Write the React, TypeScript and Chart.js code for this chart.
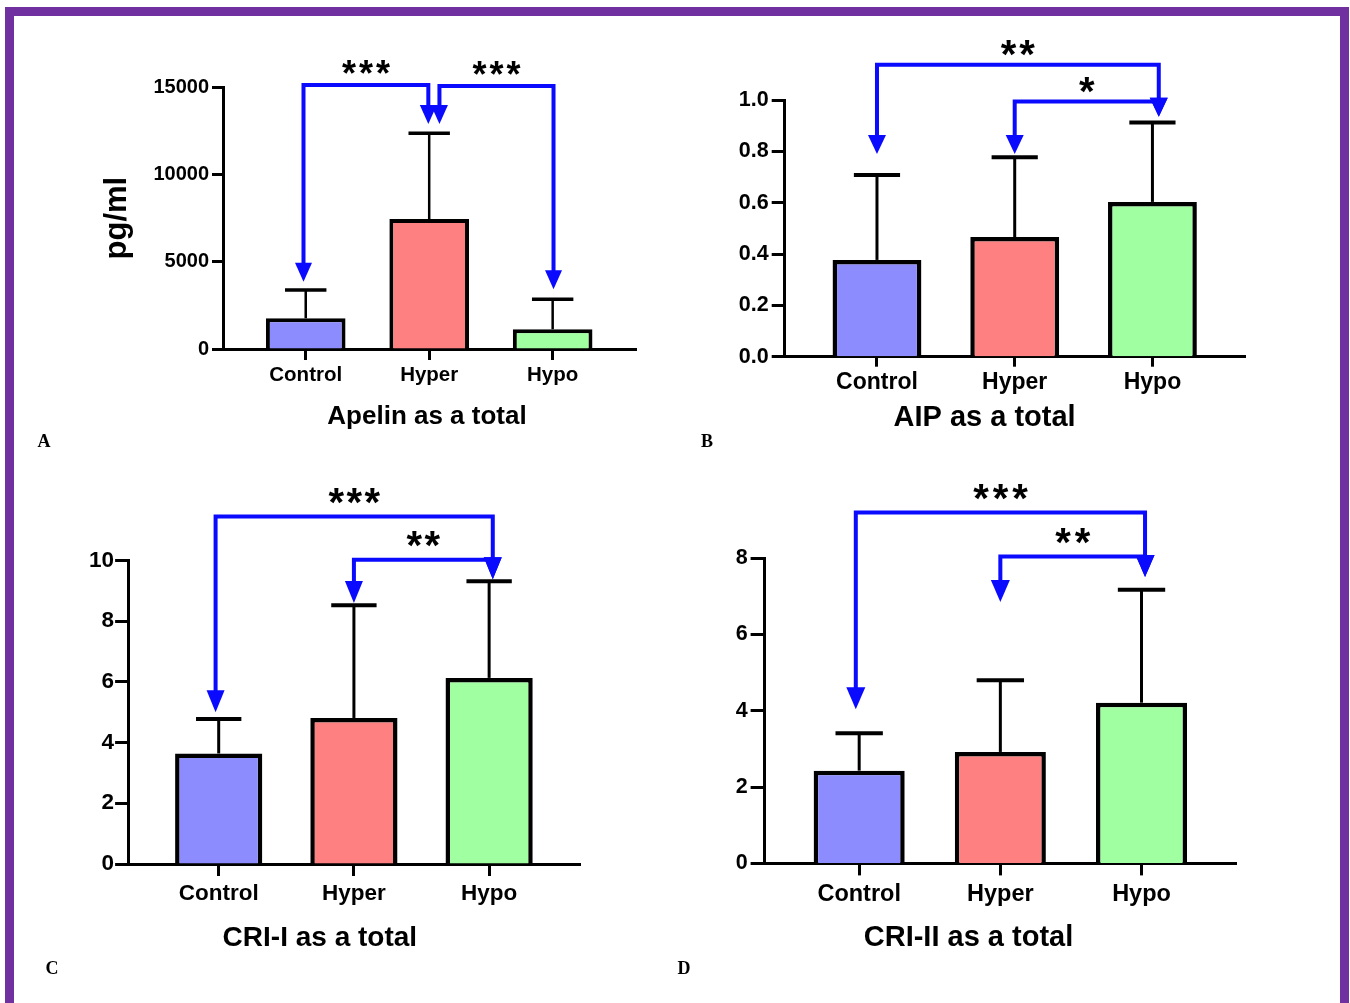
import React, { useEffect, useRef } from 'react';
import { Chart, registerables } from 'chart.js';

Chart.register(...registerables);
Chart.defaults.font.family = '"Liberation Sans", Arial, sans-serif';

// ---------- data ----------
const categories = ['Control', 'Hyper', 'Hypo'];
const barColors = ['#8c8cff', '#ff8080', '#a0ffa0'];

// A: Apelin (pg/ml)
const apelinMean = [1760, 7450, 1130];
const apelinSD = [1620, 4910, 1720];
const apelinTickValues = [0, 5000, 10000, 15000];

// B: AIP
const aipMean = [0.377, 0.466, 0.603];
const aipSD = [0.331, 0.311, 0.309];
const aipTickValues = [0, 0.2, 0.4, 0.6, 0.8, 1.0];

// C: CRI-I
const cri1Mean = [3.64, 4.81, 6.13];
const cri1SD = [1.14, 3.71, 3.18];
const cri1TickValues = [0, 2, 4, 6, 8, 10];

// D: CRI-II
const cri2Mean = [2.43, 2.92, 4.21];
const cri2SD = [0.98, 1.88, 2.96];
const cri2TickValues = [0, 2, 4, 6, 8];

// significance brackets (annotation values in data units)
const apelinBrackets = [
  { from: 0, fromShift: -0.018, to: 1, toShift: -0.007, level: 15130, fromTip: 3860, toTip: 12900, stars: '***' },
  { from: 1, fromShift: 0.083, to: 2, toShift: 0.007, level: 15080, fromTip: 12900, toTip: 3420, stars: '***' },
];
const aipBrackets = [
  { from: 0, fromShift: 0, to: 2, toShift: 0.046, level: 1.137, fromTip: 0.79, toTip: 0.935, stars: '**' },
  { from: 1, fromShift: 0, to: 2, toShift: 0.046, level: 0.994, fromTip: 0.79, toTip: 0.935, stars: '*' },
];
const cri1Brackets = [
  { from: 0, fromShift: -0.023, to: 2, toShift: 0.027, level: 11.45, fromTip: 5.0, toTip: 9.38, stars: '***' },
  { from: 1, fromShift: 0, to: 2, toShift: 0.027, level: 10.02, fromTip: 8.6, toTip: 9.38, stars: '**' },
];
const cri2Brackets = [
  { from: 0, fromShift: -0.024, to: 2, toShift: 0.025, level: 9.19, fromTip: 4.04, toTip: 7.5, stars: '***' },
  { from: 1, fromShift: 0, to: 2, toShift: 0.025, level: 8.04, fromTip: 6.85, toTip: 7.5, stars: '**' },
];

const FONT = '"Liberation Sans", Arial, sans-serif';
const BLUE = '#0a0aff';

type Panel = {
  key: string;
  mean: number[];
  sd: number[];
  ticks: number[];
  decimals: number;
  brackets: typeof apelinBrackets;
  title: string;
  yTitle?: string;
  canvas: { left: number; top: number; w: number; h: number };
  area: { left: number; top: number; right: number; bottom: number };
  yAxisW: number;
  yTickLen: number;
  yTickPad: number;
  yFont: number;
  xTickLen: number;
  xTickPad: number;
  xFont: number;
  titleFont: number;
  titleDx: number;
  titleDy: number;
  barBorder: number;
  stemW: number;
  capW: number;
  arrowW: number;
  arrowL: number;
  starFont: number;
  starPitch: number;
  starGap: number;
};

const X_AXIS_H = 45;

const panels: Panel[] = [
  {
    key: 'A', mean: apelinMean, sd: apelinSD, ticks: apelinTickValues, decimals: 0, brackets: apelinBrackets,
    title: 'Apelin as a total', yTitle: 'pg/ml',
    canvas: { left: 15, top: 17, w: 665, h: 443 },
    area: { left: 223, top: 87.3, right: 636, bottom: 349 },
    yAxisW: 124.6, yTickLen: 11, yTickPad: 3, yFont: 20,
    xTickLen: 11, xTickPad: 3, xFont: 20.5,
    titleFont: 26, titleDx: -2.5, titleDy: 68,
    barBorder: 4, stemW: 2.5, capW: 3.5, arrowW: 17, arrowL: 19,
    starFont: 36, starPitch: 17, starGap: 19.5,
  },
  {
    key: 'B', mean: aipMean, sd: aipSD, ticks: aipTickValues, decimals: 1, brackets: aipBrackets,
    title: 'AIP as a total',
    canvas: { left: 680, top: 17, w: 660, h: 443 },
    area: { left: 784.7, top: 100, right: 1245.4, bottom: 356.7 },
    yAxisW: 70, yTickLen: 13, yTickPad: 3, yFont: 21.5,
    xTickLen: 10, xTickPad: 2, xFont: 23,
    titleFont: 29, titleDx: -30.5, titleDy: 61.3,
    barBorder: 4.5, stemW: 3, capW: 4, arrowW: 18, arrowL: 19,
    starFont: 40, starPitch: 18.5, starGap: 20,
  },
  {
    key: 'C', mean: cri1Mean, sd: cri1SD, ticks: cri1TickValues, decimals: 0, brackets: cri1Brackets,
    title: 'CRI-I as a total',
    canvas: { left: 15, top: 460, w: 665, h: 543 },
    area: { left: 128.1, top: 560.4, right: 580.4, bottom: 864 },
    yAxisW: 70, yTickLen: 13, yTickPad: 1, yFont: 22.5,
    xTickLen: 12, xTickPad: 4, xFont: 22.5,
    titleFont: 28, titleDx: -34.4, titleDy: 74,
    barBorder: 4.5, stemW: 3, capW: 4, arrowW: 18, arrowL: 22,
    starFont: 40, starPitch: 18, starGap: 23.5,
  },
  {
    key: 'D', mean: cri2Mean, sd: cri2SD, ticks: cri2TickValues, decimals: 0, brackets: cri2Brackets,
    title: 'CRI-II as a total',
    canvas: { left: 680, top: 460, w: 660, h: 543 },
    area: { left: 764.6, top: 558, right: 1236.8, bottom: 863.4 },
    yAxisW: 70, yTickLen: 14, yTickPad: 3, yFont: 21.5,
    xTickLen: 12, xTickPad: 5, xFont: 23.5,
    titleFont: 29, titleDx: -32.2, titleDy: 74.6,
    barBorder: 4.5, stemW: 3, capW: 4, arrowW: 19, arrowL: 22,
    starFont: 40, starPitch: 19.5, starGap: 23.5,
  },
];

function makeExtras(p: Panel) {
  return {
    id: 'extras' + p.key,
    afterDatasetsDraw(chart: any) {
      const { ctx } = chart;
      const y = chart.scales.y;
      const meta = chart.getDatasetMeta(0);
      ctx.save();
      ctx.strokeStyle = '#000';
      ctx.lineCap = 'butt';
      meta.data.forEach((bar: any, i: number) => {
        const top = y.getPixelForValue(p.mean[i] + p.sd[i]);
        const half = (bar.width * 0.52) / 2;
        ctx.lineWidth = p.stemW;
        ctx.beginPath();
        ctx.moveTo(bar.x, bar.y);
        ctx.lineTo(bar.x, top);
        ctx.stroke();
        ctx.lineWidth = p.capW;
        ctx.beginPath();
        ctx.moveTo(bar.x - half, top);
        ctx.lineTo(bar.x + half, top);
        ctx.stroke();
      });
      ctx.restore();
    },
    afterDraw(chart: any) {
      const { ctx, chartArea } = chart;
      const x = chart.scales.x;
      const y = chart.scales.y;
      ctx.save();
      const arrow = (px: number, tip: number) => {
        ctx.beginPath();
        ctx.moveTo(px - p.arrowW / 2, tip - p.arrowL);
        ctx.lineTo(px + p.arrowW / 2, tip - p.arrowL);
        ctx.lineTo(px, tip);
        ctx.closePath();
        ctx.fill();
      };
      for (const b of p.brackets) {
        const x1 = x.getPixelForValue(b.from + b.fromShift);
        const x2 = x.getPixelForValue(b.to + b.toShift);
        const yl = y.getPixelForValue(b.level);
        const t1 = y.getPixelForValue(b.fromTip);
        const t2 = y.getPixelForValue(b.toTip);
        ctx.strokeStyle = BLUE;
        ctx.fillStyle = BLUE;
        ctx.lineWidth = 4;
        ctx.lineJoin = 'miter';
        ctx.beginPath();
        ctx.moveTo(x1, t1 - p.arrowL + 1);
        ctx.lineTo(x1, yl);
        ctx.lineTo(x2, yl);
        ctx.lineTo(x2, t2 - p.arrowL + 1);
        ctx.stroke();
        arrow(x1, t1);
        arrow(x2, t2);
        // stars
        ctx.fillStyle = '#000';
        ctx.font = `bold ${p.starFont}px ${FONT}`;
        ctx.textAlign = 'center';
        ctx.textBaseline = 'alphabetic';
        const n = b.stars.length;
        const cx = (x1 + x2) / 2;
        const cy = yl - p.starGap;
        for (let i = 0; i < n; i++) {
          ctx.fillText(b.stars[i], cx + (i - (n - 1) / 2) * p.starPitch, cy + 0.58 * p.starFont);
        }
      }
      // panel title under x axis
      ctx.fillStyle = '#000';
      ctx.font = `bold ${p.titleFont}px ${FONT}`;
      ctx.textAlign = 'center';
      ctx.textBaseline = 'middle';
      ctx.fillText(p.title, (chartArea.left + chartArea.right) / 2 + p.titleDx, chartArea.bottom + p.titleDy);
      ctx.restore();
    },
  };
}

function buildConfig(p: Panel): any {
  const c = p.canvas;
  const a = p.area;
  const padding = {
    left: a.left - c.left - p.yAxisW,
    top: a.top - c.top,
    right: c.left + c.w - a.right,
    bottom: c.top + c.h - a.bottom - X_AXIS_H,
  };
  const yMin = p.ticks[0];
  const yMax = p.ticks[p.ticks.length - 1];
  return {
    type: 'bar',
    data: {
      datasets: [
        {
          data: categories.map((_, i) => ({ x: i, y: p.mean[i] })),
          backgroundColor: barColors,
          borderColor: '#000',
          borderWidth: p.barBorder,
          barPercentage: 0.645,
          categoryPercentage: 1,
        },
      ],
    },
    options: {
      responsive: false,
      animation: false,
      devicePixelRatio: 1,
      layout: { padding },
      plugins: { legend: { display: false }, tooltip: { enabled: false } },
      scales: {
        x: {
          type: 'linear',
          min: -0.67,
          max: 2.675,
          bounds: 'data',
          offset: false,
          afterBuildTicks: (s: any) => {
            s.ticks = categories.map((_, i) => ({ value: i }));
          },
          afterFit: (s: any) => {
            s.height = X_AXIS_H;
          },
          ticks: {
            callback: (v: number) => categories[v] ?? '',
            font: { size: p.xFont, weight: 'bold', family: FONT },
            color: '#000',
            padding: p.xTickPad,
            maxRotation: 0,
            autoSkip: false,
          },
          grid: {
            display: true,
            offset: false,
            drawOnChartArea: false,
            drawTicks: true,
            tickLength: p.xTickLen,
            tickWidth: 3,
            tickColor: '#000',
          },
          border: { display: true, color: '#000', width: 3 },
        },
        y: {
          type: 'linear',
          min: yMin,
          max: yMax,
          afterBuildTicks: (s: any) => {
            s.ticks = p.ticks.map((v) => ({ value: v }));
          },
          afterFit: (s: any) => {
            s.width = p.yAxisW;
          },
          ticks: {
            callback: (v: number) => Number(v).toFixed(p.decimals),
            font: { size: p.yFont, weight: 'bold', family: FONT },
            color: '#000',
            padding: p.yTickPad,
          },
          grid: {
            display: true,
            drawOnChartArea: false,
            drawTicks: true,
            tickLength: p.yTickLen,
            tickWidth: 3,
            tickColor: '#000',
          },
          border: { display: true, color: '#000', width: 3 },
          title: p.yTitle
            ? {
                display: true,
                text: p.yTitle,
                color: '#000',
                font: { size: 31, weight: 'bold', family: FONT },
                padding: 0,
              }
            : { display: false },
        },
      },
    },
    plugins: [makeExtras(p)],
  };
}

function PanelChart({ p }: { p: Panel }) {
  const ref = useRef<HTMLCanvasElement>(null);
  useEffect(() => {
    if (!ref.current) return;
    const chart = new Chart(ref.current, buildConfig(p));
    return () => chart.destroy();
  }, [p]);
  const c = p.canvas;
  return (
    <canvas
      ref={ref}
      width={c.w}
      height={c.h}
      style={{ position: 'absolute', left: c.left, top: c.top, width: c.w, height: c.h }}
    />
  );
}

const panelLetters = [
  { text: 'A', x: 44, y: 441 },
  { text: 'B', x: 707, y: 441 },
  { text: 'C', x: 52, y: 968 },
  { text: 'D', x: 684, y: 968 },
];

export default function App() {
  const purple = '#7030a0';
  return (
    <div
      style={{
        position: 'absolute',
        left: 0,
        top: 0,
        width: 1350,
        height: 1003,
        background: '#fff',
        overflow: 'hidden',
      }}
    >
      <div style={{ position: 'absolute', left: 5, top: 7, width: 1344, height: 9, background: purple }} />
      <div style={{ position: 'absolute', left: 5, top: 7, width: 9, height: 996, background: purple }} />
      <div style={{ position: 'absolute', left: 1340, top: 7, width: 9, height: 996, background: purple }} />
      {panels.map((p) => (
        <PanelChart key={p.key} p={p} />
      ))}
      {panelLetters.map((l) => (
        <div
          key={l.text}
          style={{
            position: 'absolute',
            left: l.x,
            top: l.y,
            transform: 'translate(-50%, -50%)',
            font: 'bold 18px "Liberation Serif", "Times New Roman", serif',
            lineHeight: '18px',
            color: '#000',
          }}
        >
          {l.text}
        </div>
      ))}
    </div>
  );
}
